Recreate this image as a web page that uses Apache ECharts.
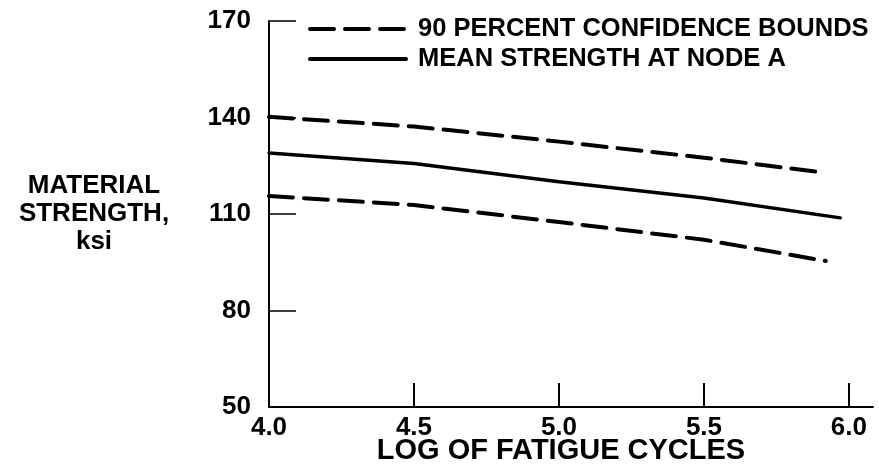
<!DOCTYPE html>
<html>
<head>
<meta charset="utf-8">
<script src="https://cdn.jsdelivr.net/npm/echarts@6/dist/echarts.min.js"></script>
<style>
html,body{margin:0;padding:0;background:#fff;}
#chart{width:879px;height:472px;}
</style>
</head>
<body>
<div id="chart"></div>
<script>
// Data
const xUpper = [4.0, 4.5, 5.0, 5.5, 5.92];
const upperBound = [140.2, 137.2, 132.5, 127.5, 122.8];
const xMean = [4.0, 4.5, 5.0, 5.5, 5.97];
const meanStrength = [129.0, 125.7, 120.0, 115.0, 108.8];
const xLower = [4.0, 4.5, 5.0, 5.5, 5.92];
const lowerBound = [115.6, 112.8, 107.5, 102.0, 95.4];
const xTickValues = [4.5, 5.0, 5.5, 6.0];
const xLabelValues = [4.0, 4.5, 5.0, 5.5, 6.0];
const yTickValues = [80, 110, 140, 170];
const yLabelValues = [50, 80, 110, 140, 170];
const boundsName = '90 PERCENT CONFIDENCE BOUNDS';
const meanName = 'MEAN STRENGTH AT NODE A';
const yTitle = 'MATERIAL\nSTRENGTH,\nksi';
const xTitle = 'LOG OF FATIGUE CYCLES';

const pairs = (xs, ys) => xs.map((x, i) => [x, ys[i]]);
const FONT = '"Liberation Sans", Arial, sans-serif';

const chart = echarts.init(document.getElementById('chart'), null, {renderer: 'canvas'});
const dashStyle = {color: '#000', width: 4, type: [24, 11], cap: 'round'};
const solidStyle = {color: '#000', width: 3.5, type: 'solid', cap: 'round'};

chart.setOption({
  backgroundColor: '#fff',
  animation: false,
  grid: {left: 269, top: 21, width: 604, height: 386, containLabel: false, outerBoundsMode: 'none'},
  legend: {
    orient: 'vertical',
    left: 303,
    top: 9,
    itemWidth: 96,
    itemHeight: 20,
    itemGap: 0,
    itemStyle: {opacity: 0},
    lineStyle: {width: 4, color: '#000'},
    data: [boundsName, meanName],
    textStyle: {fontFamily: FONT, fontWeight: 'bold', fontSize: 25.5, lineHeight: 30, color: '#000', padding: [0, 0, 0, 7]}
  },
  xAxis: {
    type: 'value',
    min: 4.0,
    max: 6.083,
    interval: 0.5,
    splitLine: {show: false},
    axisLine: {show: true, onZero: false, lineStyle: {color: '#000', width: 2}},
    axisTick: {show: true, inside: true, length: 24, customValues: xTickValues, lineStyle: {color: '#000', width: 2}},
    axisLabel: {show: true, customValues: xLabelValues, margin: 8, color: '#000', fontFamily: FONT, fontWeight: 'bold', fontSize: 26,
      formatter: v => v.toFixed(1)},
    name: xTitle,
    nameLocation: 'middle',
    nameGap: 29,
    nameMoveOverlap: false,
    nameTextStyle: {fontFamily: FONT, fontWeight: 'bold', fontSize: 29, color: '#000', padding: [0, 20, 0, 0]}
  },
  yAxis: {
    type: 'value',
    min: 50,
    max: 170,
    interval: 30,
    splitLine: {show: false},
    axisLine: {show: true, onZero: false, lineStyle: {color: '#000', width: 2}},
    axisTick: {show: true, inside: true, length: 27, customValues: yTickValues, lineStyle: {color: '#000', width: 1.5}},
    axisLabel: {show: true, customValues: yLabelValues, margin: 18, color: '#000', fontFamily: FONT, fontWeight: 'bold', fontSize: 26}
  },
  graphic: [{
    type: 'text',
    x: 94, y: 214,
    style: {
      text: yTitle,
      align: 'center', verticalAlign: 'middle',
      fontFamily: FONT, fontWeight: 'bold', fontSize: 26, lineHeight: 28, fill: '#000'
    }
  }],
  series: [
    {name: boundsName, type: 'line', data: pairs(xUpper, upperBound), symbol: 'none', lineStyle: dashStyle, itemStyle: {color: '#000'}},
    {name: meanName, type: 'line', data: pairs(xMean, meanStrength), symbol: 'none', lineStyle: solidStyle, itemStyle: {color: '#000'}},
    {name: boundsName, type: 'line', data: pairs(xLower, lowerBound), symbol: 'none', lineStyle: dashStyle, itemStyle: {color: '#000'}}
  ]
});
</script>
</body>
</html>
